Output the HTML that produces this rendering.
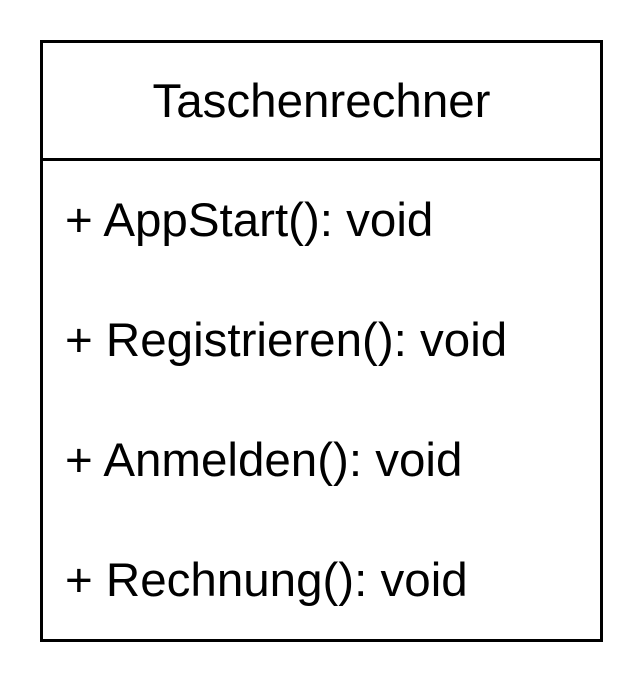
<!DOCTYPE html>
<html><head><style>html,body{margin:0;padding:0;background:#fff;}</style></head>
<body>
<svg width="644" height="684" xmlns="http://www.w3.org/2000/svg" style="display:block">
<rect x="0" y="0" width="644" height="684" fill="#fff"/>
<rect x="41.5" y="41.5" width="560" height="599" fill="#fff" stroke="#000" stroke-width="3"/>
<line x1="41.5" y1="159.5" x2="601.5" y2="159.5" stroke="#000" stroke-width="3"/>
<g font-family="Liberation Sans, Arial, sans-serif" font-size="47.5" fill="#000">
<text x="321.5" y="117" text-anchor="middle">Taschenrechner</text>
<text x="65" y="236">+ AppStart(): void</text>
<text x="65" y="356">+ Registrieren(): void</text>
<text x="65" y="476">+ Anmelden(): void</text>
<text x="65" y="596">+ Rechnung(): void</text>
</g>
</svg>
</body></html>
